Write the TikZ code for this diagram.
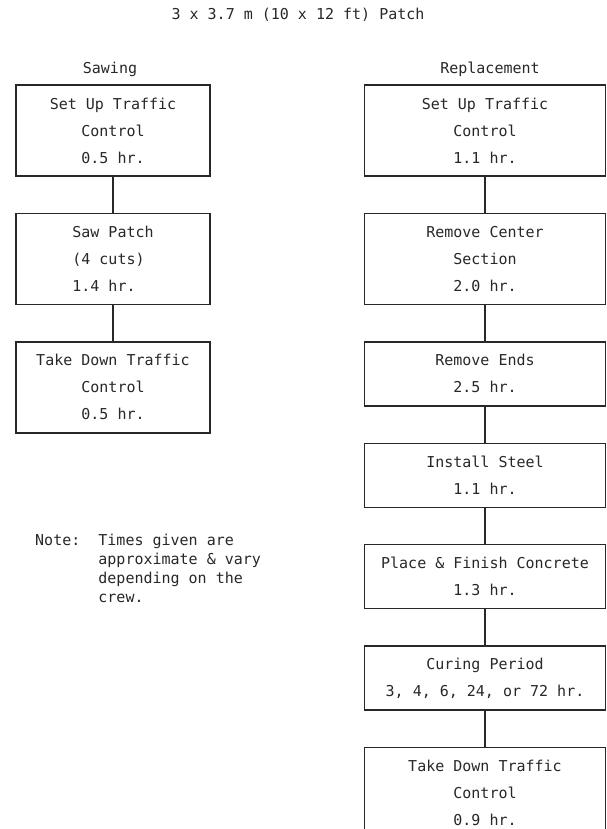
\documentclass[tikz,border=0pt]{standalone}
\usepackage{fontspec}
\setmonofont{DejaVu Sans Mono}
\usetikzlibrary{positioning}
\tikzset{every node/.append style={align=center}}
\definecolor{inkgray}{RGB}{40,40,40}
\tikzset{
  txt/.style={font=\ttfamily\fontsize{15}{27}\selectfont, text=inkgray, inner sep=0pt},
  stepbox/.style={txt, draw=inkgray, line width=1.4pt},
  sawbox/.style={stepbox, minimum width=194pt},
  repbox/.style={stepbox, minimum width=241pt},
  tall/.style={minimum height=91pt},
  short/.style={minimum height=64pt},
  link/.style={draw=inkgray, line width=1.4pt}
}

\begin{document}
\begin{tikzpicture}[x=1pt,y=-1pt, node distance=36pt]
\useasboundingbox[fill=white] (0,0) rectangle (607,829);

% ── Title and column heads ─────────────────────────────────────────────
\node[txt] (title) at (298,15) {3 x 3.7 m (10 x 12 ft) Patch};
\node[txt] (sawhd) at (110,69) {Sawing};
\node[txt] (rephd) at (490,69) {Replacement};

% ── Sawing column ──────────────────────────────────────────────────────
\node[sawbox, tall] (s1) at (113,130.5) {Set Up Traffic\\Control\\0.5 hr.};
\node[sawbox, tall, align=left, below=of s1] (s2) {Saw Patch\\(4 cuts)\\1.4 hr.};
\node[sawbox, tall, below=of s2] (s3) {Take Down Traffic\\Control\\0.5 hr.};

% ── Replacement column ─────────────────────────────────────────────────
\node[repbox, tall] (r1) at (485,130.5) {Set Up Traffic\\Control\\1.1 hr.};
\node[repbox, tall, below=of r1] (r2) {Remove Center\\Section\\2.0 hr.};
\node[repbox, short, below=of r2] (r3) {Remove Ends\\2.5 hr.};
\node[repbox, short, below=of r3] (r4) {Install Steel\\1.1 hr.};
\node[repbox, short, below=of r4] (r5) {Place \& Finish Concrete\\1.3 hr.};
\node[repbox, short, below=of r5] (r6) {Curing Period\\3, 4, 6, 24, or 72 hr.};
\node[repbox, tall, below=of r6] (r7) {Take Down Traffic\\Control\\0.9 hr.};

% Connectors
\foreach \a/\b in {s1/s2, s2/s3, r1/r2, r2/r3, r3/r4, r4/r5, r5/r6, r6/r7}
  \draw[link] (\a) -- (\b);

% ── Note ───────────────────────────────────────────────────────────────
\node[txt, font=\ttfamily\fontsize{15}{19}\selectfont, align=left,
      anchor=north west] (note) at (35,534)
  {Note:~~Times given are\\
   \hphantom{Note:~~}approximate \& vary\\
   \hphantom{Note:~~}depending on the\\
   \hphantom{Note:~~}crew.};

\end{tikzpicture}
\end{document}
